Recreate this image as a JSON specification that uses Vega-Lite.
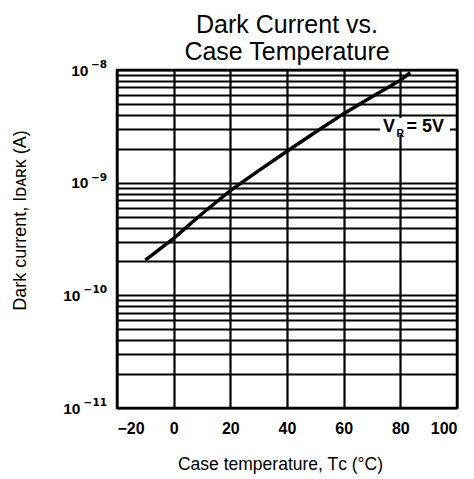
{
  "$schema": "https://vega.github.io/schema/vega-lite/v6.json",
  "autosize": "none",
  "width": 340,
  "height": 338,
  "padding": {"left": 117, "top": 70, "right": 17, "bottom": 71},
  "background": "white",
  "config": {
    "view": {"stroke": "black", "strokeWidth": 2.5},
    "font": "Liberation Sans"
  },
  "title": {
    "text": ["Dark Current vs.", "Case Temperature"],
    "fontSize": 25,
    "font": "Liberation Sans",
    "fontWeight": "normal",
    "color": "black",
    "anchor": "middle",
    "lineHeight": 27,
    "offset": -5
  },
  "datasets": {
    "curve": [
      {"temp": -10, "current": 2.05e-10},
      {"temp": 0, "current": 3.2e-10},
      {"temp": 10, "current": 5.3e-10},
      {"temp": 20, "current": 8.5e-10},
      {"temp": 30, "current": 1.28e-9},
      {"temp": 40, "current": 1.9e-9},
      {"temp": 50, "current": 2.8e-9},
      {"temp": 60, "current": 4.1e-9},
      {"temp": 70, "current": 5.8e-9},
      {"temp": 80, "current": 8.1e-9},
      {"temp": 83.5, "current": 9.5e-9}
    ],
    "decades": [
      {"value": 1e-8, "sup": "−8"},
      {"value": 1e-9, "sup": "−9"},
      {"value": 1e-10, "sup": "−10"},
      {"value": 1e-11, "sup": "−11"}
    ],
    "note": [
      {"temp": 73.9, "current": 3.13e-9, "x1": 72.8, "x2": 97.5, "y1": 3.75e-9, "y2": 2.65e-9}
    ]
  },
  "layer": [
    {
      "data": {"name": "curve"},
      "mark": {"type": "line", "color": "black", "strokeWidth": 3.5, "strokeCap": "butt"},
      "encoding": {
        "x": {
          "field": "temp", "type": "quantitative",
          "scale": {"domain": [-20, 100], "nice": false, "zero": false},
          "axis": {
            "values": [-20, 0, 20, 40, 60, 80, 100],
            "grid": true, "gridColor": "black", "gridWidth": 2.2, "gridOpacity": 1,
            "domain": false, "ticks": false,
            "labelFont": "Liberation Sans", "labelFontSize": 16, "labelFontWeight": "bold",
            "labelColor": "black", "labelPadding": 12,
            "title": "Case temperature, Tᴄ (°C)",
            "titleFont": "Liberation Sans", "titleFontSize": 17.5, "titleFontWeight": "normal",
            "titleColor": "black", "titleX": 163, "titleY": 56, "titleBaseline": "middle"
          }
        },
        "y": {
          "field": "current", "type": "quantitative",
          "scale": {"type": "log", "domain": [1e-11, 1e-8], "nice": false},
          "axis": {
            "values": [1e-11, 2e-11, 3e-11, 4e-11, 5e-11, 6e-11, 7e-11, 8e-11, 9e-11,
                       1e-10, 2e-10, 3e-10, 4e-10, 5e-10, 6e-10, 7e-10, 8e-10, 9e-10,
                       1e-9, 2e-9, 3e-9, 4e-9, 5e-9, 6e-9, 7e-9, 8e-9, 9e-9, 1e-8],
            "labels": false,
            "grid": true, "gridColor": "black", "gridWidth": 2, "gridOpacity": 1,
            "domain": false, "ticks": false,
            "title": "Dark current, Iᴅᴀʀᴋ (A)",
            "titleFont": "Liberation Sans", "titleFontSize": 18, "titleFontWeight": "normal",
            "titleColor": "black", "titleX": -97, "titleY": 150, "titleAngle": -90,
            "titleAlign": "center", "titleBaseline": "middle"
          }
        }
      }
    },
    {
      "data": {"name": "decades"},
      "mark": {"type": "text", "font": "DejaVu Sans", "fontSize": 10.5, "fontWeight": "bold", "align": "right", "baseline": "middle", "color": "black", "dx": -10, "dy": -5},
      "encoding": {
        "x": {"datum": -20},
        "y": {"field": "value", "type": "quantitative"},
        "text": {"field": "sup"}
      }
    },
    {
      "data": {"name": "decades"},
      "transform": [{"filter": "datum.value >= 1e-9"}],
      "mark": {"type": "text", "fontSize": 15.5, "fontWeight": "bold", "align": "right", "baseline": "middle", "color": "black", "dx": -28.5, "dy": 0.5},
      "encoding": {
        "x": {"datum": -20},
        "y": {"field": "value", "type": "quantitative"},
        "text": {"value": "10"}
      }
    },
    {
      "data": {"name": "decades"},
      "transform": [{"filter": "datum.value < 1e-9"}],
      "mark": {"type": "text", "fontSize": 15.5, "fontWeight": "bold", "align": "right", "baseline": "middle", "color": "black", "dx": -36.5, "dy": 0.5},
      "encoding": {
        "x": {"datum": -20},
        "y": {"field": "value", "type": "quantitative"},
        "text": {"value": "10"}
      }
    },
    {
      "data": {"name": "note"},
      "mark": {"type": "rect", "color": "white"},
      "encoding": {
        "x": {"field": "x1", "type": "quantitative"},
        "x2": {"field": "x2"},
        "y": {"field": "y1", "type": "quantitative"},
        "y2": {"field": "y2"}
      }
    },
    {
      "data": {"name": "note"},
      "mark": {"type": "text", "fontSize": 18, "fontWeight": "bold", "align": "left", "baseline": "middle", "color": "black", "font": "Liberation Sans"},
      "encoding": {
        "x": {"field": "temp", "type": "quantitative"},
        "y": {"field": "current", "type": "quantitative"},
        "text": {"value": "V"}
      }
    },
    {
      "data": {"name": "note"},
      "mark": {"type": "text", "fontSize": 10.5, "fontWeight": "bold", "align": "left", "baseline": "middle", "color": "black", "font": "Liberation Sans", "dx": 13.5, "dy": 7},
      "encoding": {
        "x": {"field": "temp", "type": "quantitative"},
        "y": {"field": "current", "type": "quantitative"},
        "text": {"value": "R"}
      }
    },
    {
      "data": {"name": "note"},
      "mark": {"type": "text", "fontSize": 18, "fontWeight": "bold", "align": "left", "baseline": "middle", "color": "black", "font": "Liberation Sans", "dx": 23.5},
      "encoding": {
        "x": {"field": "temp", "type": "quantitative"},
        "y": {"field": "current", "type": "quantitative"},
        "text": {"value": "= 5V"}
      }
    }
  ]
}
